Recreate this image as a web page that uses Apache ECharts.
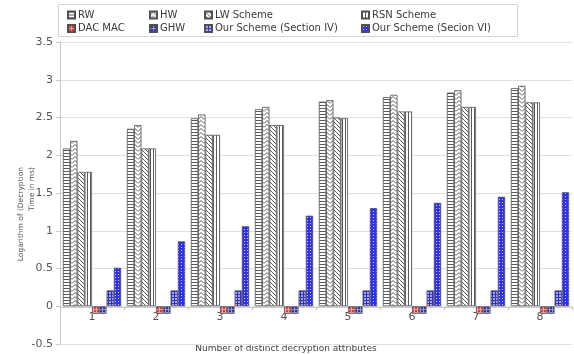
<!DOCTYPE html>
<html>
<head>
<meta charset="utf-8">
<script src="https://cdn.jsdelivr.net/npm/echarts@6/dist/echarts.min.js"></script>
<style>html,body{margin:0;padding:0;background:#fff}#c{width:574px;height:354px}</style>
</head>
<body>
<div id="c"></div>
<script>
const categories = ['1','2','3','4','5','6','7','8'];
const seriesNames = ['RW','HW','LW Scheme','RSN Scheme','DAC MAC','GHW','Our Scheme (Section IV)','Our Scheme (Secion VI)'];
const rw     = [2.09, 2.35, 2.49, 2.61, 2.71, 2.77, 2.83, 2.89];
const hw     = [2.19, 2.40, 2.54, 2.64, 2.73, 2.80, 2.86, 2.92];
const lw     = [1.78, 2.09, 2.27, 2.40, 2.50, 2.58, 2.64, 2.70];
const rsn    = [1.78, 2.09, 2.27, 2.40, 2.49, 2.58, 2.64, 2.70];
const dacmac = [-0.10, -0.10, -0.10, -0.10, -0.10, -0.10, -0.10, -0.10];
const ghw    = [-0.10, -0.10, -0.10, -0.10, -0.10, -0.10, -0.10, -0.10];
const ourIV  = [0.21, 0.21, 0.21, 0.21, 0.21, 0.21, 0.21, 0.21];
const ourVI  = [0.51, 0.86, 1.06, 1.20, 1.30, 1.37, 1.45, 1.51];
const yTicks = {min: -0.5, max: 3.5, interval: 0.5};

function pat(w, h, bg, draw) {
  const c = document.createElement('canvas');
  c.width = w; c.height = h;
  const g = c.getContext('2d');
  g.fillStyle = bg; g.fillRect(0, 0, w, h);
  draw(g);
  return {image: c, repeat: 'repeat'};
}
const pats = [
  pat(4, 3, '#fff', g => { g.fillStyle = '#5a5a5a'; g.fillRect(0, 0, 4, 1); }),
  pat(6, 4, '#fff', g => { g.strokeStyle = '#5a5a5a'; g.lineWidth = 1; g.beginPath(); g.moveTo(0, 3.5); g.lineTo(3, 0.5); g.lineTo(6, 3.5); g.stroke(); }),
  pat(4, 4, '#fff', g => { g.strokeStyle = '#5a5a5a'; g.lineWidth = 1; g.beginPath(); g.moveTo(0, 0); g.lineTo(4, 4); g.moveTo(-1, 3); g.lineTo(1, 5); g.moveTo(3, -1); g.lineTo(5, 1); g.stroke(); }),
  pat(3, 1, '#fff', g => { g.fillStyle = '#5a5a5a'; g.fillRect(0, 0, 1, 1); }),
  pat(3, 3, '#d83c3c', g => { g.fillStyle = '#f0a0a0'; g.fillRect(0, 0, 3, 1); g.fillRect(0, 0, 1, 3); }),
  pat(3, 3, '#34349a', g => { g.fillStyle = '#9a9ad0'; g.fillRect(0, 0, 3, 1); g.fillRect(0, 0, 1, 3); }),
  pat(3, 3, '#a8a8ee', g => { g.fillStyle = '#3030c8'; g.fillRect(0, 0, 3, 1); g.fillRect(0, 0, 1, 3); }),
  pat(3, 3, '#3030f0', g => { g.fillStyle = '#c8c8ff'; g.fillRect(1, 1, 1, 1); })
];
const values = [rw, hw, lw, rsn, dacmac, ghw, ourIV, ourVI];

const font = 'DejaVu Sans';
const legendPos = [
  [67, 10], [149, 10], [204, 10], [361, 10],
  [67, 23.5], [149, 23.5], [204, 23.5], [361, 23.5]
];
const legends = seriesNames.map((n, i) => ({
  left: legendPos[i][0], top: legendPos[i][1], padding: 0,
  itemWidth: 7, itemHeight: 7, icon: 'rect', selectedMode: false,
  data: [n],
  textStyle: {fontFamily: font, fontSize: 10, color: '#3a3a3a', padding: [0, 0, 0, -2]}
}));

const chart = echarts.init(document.getElementById('c'), null, {renderer: 'canvas'});
chart.setOption({
  animation: false,
  backgroundColor: '#fff',
  legend: legends,
  grid: {left: 60, right: 2, top: 42, bottom: 10, containLabel: false},
  xAxis: {
    type: 'category', data: categories,
    axisLine: {onZero: false, lineStyle: {color: '#d0d0d0', width: 1}},
    axisTick: {show: true, length: 3, lineStyle: {color: '#c0c0c0'}},
    axisLabel: {fontFamily: font, fontSize: 11, color: '#555', margin: 5}
  },
  yAxis: {
    type: 'value', min: yTicks.min, max: yTicks.max, interval: yTicks.interval,
    axisLine: {show: true, lineStyle: {color: '#c8c8c8'}},
    axisTick: {show: true, length: 4, lineStyle: {color: '#c8c8c8'}},
    splitLine: {lineStyle: {color: '#e0e0e0'}},
    axisLabel: {fontFamily: font, fontSize: 11, color: '#555', margin: 7}
  },
  graphic: [
    {type: 'rect', shape: {x: 58.5, y: 4.5, width: 459, height: 32}, style: {fill: 'none', stroke: '#d4d4d4', lineWidth: 1}, z: -1},
    {type: 'text', x: 27, y: 167, rotation: Math.PI / 2,
     style: {text: 'Logarithm of (Decryption\nTime in ms)', align: 'right', verticalAlign: 'middle', font: '7.5px DejaVu Sans', fill: '#555', lineHeight: 11}},
    {type: 'text', x: 286, y: 349,
     style: {text: 'Number of distinct decryption attributes', align: 'center', verticalAlign: 'middle', font: '9px DejaVu Sans', fill: '#444'}}
  ],
  series: seriesNames.map((n, i) => ({
    name: n, type: 'bar', data: values[i],
    barGap: '0%', barCategoryGap: '9%',
    itemStyle: {color: pats[i], borderColor: '#505050', borderWidth: 0.8}
  }))
});
const zeroY = chart.convertToPixel({yAxisIndex: 0}, 0);
const minY = chart.convertToPixel({yAxisIndex: 0}, yTicks.min);
chart.setOption({xAxis: {offset: zeroY - minY}});
</script>
</body>
</html>
